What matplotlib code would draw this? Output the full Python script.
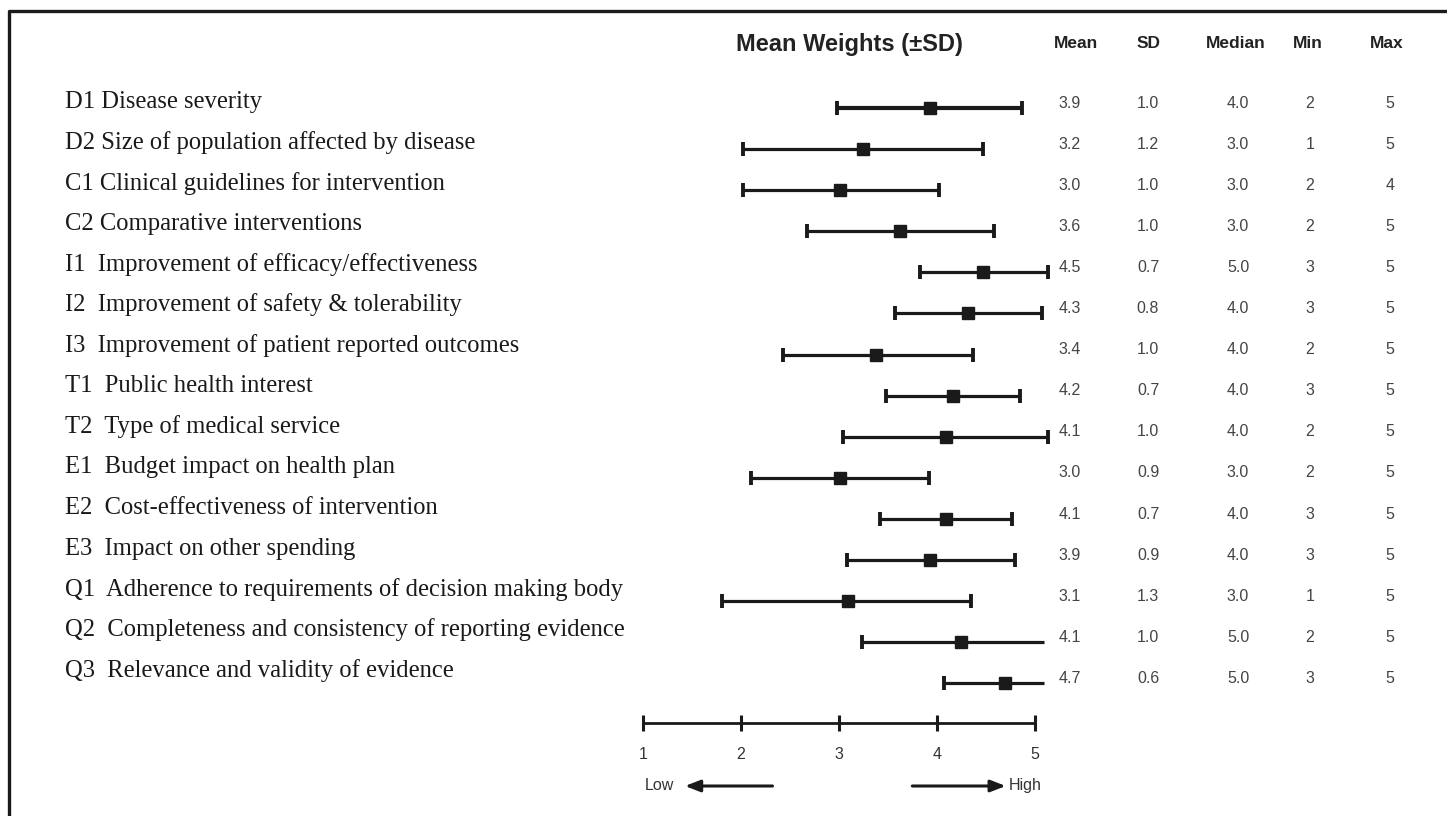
import matplotlib
matplotlib.use("Agg")
import matplotlib.pyplot as plt
from matplotlib.lines import Line2D
import matplotlib.transforms as mtransforms
import numpy as np

# ---------------- data ----------------
labels = [
    "D1 Disease severity",
    "D2 Size of population affected by disease",
    "C1 Clinical guidelines for intervention",
    "C2 Comparative interventions",
    "I1  Improvement of efficacy/effectiveness",
    "I2  Improvement of safety & tolerability",
    "I3  Improvement of patient reported outcomes",
    "T1  Public health interest",
    "T2  Type of medical service",
    "E1  Budget impact on health plan",
    "E2  Cost-effectiveness of intervention",
    "E3  Impact on other spending",
    "Q1  Adherence to requirements of decision making body",
    "Q2  Completeness and consistency of reporting evidence",
    "Q3  Relevance and validity of evidence",
]
# plotted positions
plot_mean = [3.93, 3.24, 3.01, 3.62, 4.47, 4.32, 3.38, 4.16, 4.09, 3.01, 4.09, 3.93, 3.09, 4.24, 4.69]
plot_low = [2.98, 2.02, 2.02, 2.67, 3.83, 3.57, 2.43, 3.48, 3.04, 2.10, 3.42, 3.08, 1.81, 3.23, 4.07]
plot_high = [4.87, 4.47, 4.02, 4.58, 5.13, 5.07, 4.37, 4.85, 5.13, 3.92, 4.77, 4.80, 4.35, 5.09, 5.09]
right_cap = [True] * 13 + [False, False]

# table columns
tbl_mean = ["3.9", "3.2", "3.0", "3.6", "4.5", "4.3", "3.4", "4.2", "4.1", "3.0", "4.1", "3.9", "3.1", "4.1", "4.7"]
tbl_sd = ["1.0", "1.2", "1.0", "1.0", "0.7", "0.8", "1.0", "0.7", "1.0", "0.9", "0.7", "0.9", "1.3", "1.0", "0.6"]
tbl_median = ["4.0", "3.0", "3.0", "3.0", "5.0", "4.0", "4.0", "4.0", "4.0", "3.0", "4.0", "4.0", "3.0", "5.0", "5.0"]
tbl_min = ["2", "1", "2", "2", "3", "3", "2", "3", "2", "2", "3", "3", "1", "2", "3"]
tbl_max = ["5", "5", "4", "5", "5", "5", "5", "5", "5", "5", "5", "5", "5", "5", "5"]
col_headers = ["Mean", "SD", "Median", "Min", "Max"]
scale_ticks = [1, 2, 3, 4, 5]

# ---------------- figure ----------------
W, H = 1447, 816
fig = plt.figure(figsize=(W / 100, H / 100), dpi=100)
ax = fig.add_axes([0, 0, 1, 1])
ax.set_axis_off()

ppu = 98.0          # pixels per unit on the x scale
x1_px = 643.0
row0_px, row_px = 108.0, 41.1
ax.set_xlim(1 - x1_px / ppu, 1 + (W - x1_px) / ppu)
ax.set_ylim((H - row0_px) / row_px, -row0_px / row_px)

n = len(labels)
y = np.arange(n)
pm = np.array(plot_mean)
pl = np.array(plot_low)
ph = np.array(plot_high)
rc = np.array(right_cap)

lws = np.full(n, 2.3)
lws[0] = 3.0
for i in range(n):
    ax.plot([pl[i], ph[i]], [y[i], y[i]], color="#1a1a1a", lw=lws[i], solid_capstyle="butt", zorder=2)
ax.plot(pl, y, linestyle="none", marker="|", markersize=10, markeredgewidth=2.8, color="#1a1a1a", zorder=3)
ax.plot(ph[rc], y[rc], linestyle="none", marker="|", markersize=10, markeredgewidth=2.8, color="#1a1a1a", zorder=3)
ax.plot(pm, y, linestyle="none", marker="s", markersize=9, color="#1a1a1a", zorder=4)

# left labels
xfig = mtransforms.blended_transform_factory(fig.transFigure, ax.transData)
for i, lab in enumerate(labels):
    ax.text(65 / W, y[i] - 0.15 - 0.012 * i, lab, transform=xfig, ha="left", va="center",
            fontsize=17.7, family="Liberation Serif", color="#1a1a1a")

# table
col_x = [1070, 1148, 1238, 1310, 1390]
hdr_x = [1076, 1149, 1236, 1308, 1387]
cols = [tbl_mean, tbl_sd, tbl_median, tbl_min, tbl_max]
for cx, col in zip(col_x, cols):
    for i, v in enumerate(col):
        ax.text(cx / W, y[i] - 0.12, v, transform=xfig, ha="center", va="center",
                fontsize=11.5, family="Liberation Sans", color="#444444")
for hx, h in zip(hdr_x, col_headers):
    fig.text(hx / W, 1 - 44 / H, h, ha="center", va="center", fontsize=12.5,
             fontweight="bold", family="Liberation Sans", color="#222222")
fig.text(849 / W, 1 - 44 / H, "Mean Weights (\u00b1SD)", ha="center", va="center",
         fontsize=17, fontweight="bold", family="Liberation Sans", color="#222222")

# bottom scale
y_scale = (723 - row0_px) / row_px
ax.plot([scale_ticks[0], scale_ticks[-1]], [y_scale, y_scale], color="#1a1a1a", lw=2.0)
ax.plot(scale_ticks, [y_scale] * len(scale_ticks), linestyle="none", marker="|",
        markersize=11, markeredgewidth=2.2, color="#1a1a1a")
y_lab = (755 - row0_px) / row_px
for t in scale_ticks:
    ax.text(t, y_lab, str(t), ha="center", va="center", fontsize=11.5,
            family="Liberation Sans", color="#333333")
y_arr = (786 - row0_px) / row_px
ax.annotate("", xy=(1.40, y_arr), xytext=(2.35, y_arr),
            arrowprops=dict(arrowstyle="-|>,head_length=0.9,head_width=0.35", color="#1a1a1a", lw=2.2))
ax.annotate("", xy=(4.73, y_arr), xytext=(3.72, y_arr),
            arrowprops=dict(arrowstyle="-|>,head_length=0.9,head_width=0.35", color="#1a1a1a", lw=2.2))
ax.text(1.02, y_arr, "Low", ha="left", va="center", fontsize=11.5, family="Liberation Sans", color="#333333")
ax.text(4.73, y_arr, "High", ha="left", va="center", fontsize=11.5, family="Liberation Sans", color="#333333")

# border (left and top)
bx = 9 / W
by = 1 - 11 / H
fig.add_artist(Line2D([bx, bx, 1.0], [0.0, by, by], transform=fig.transFigure,
                      color="#1a1a1a", lw=2.4))

fig.savefig("out.png", dpi=100)
